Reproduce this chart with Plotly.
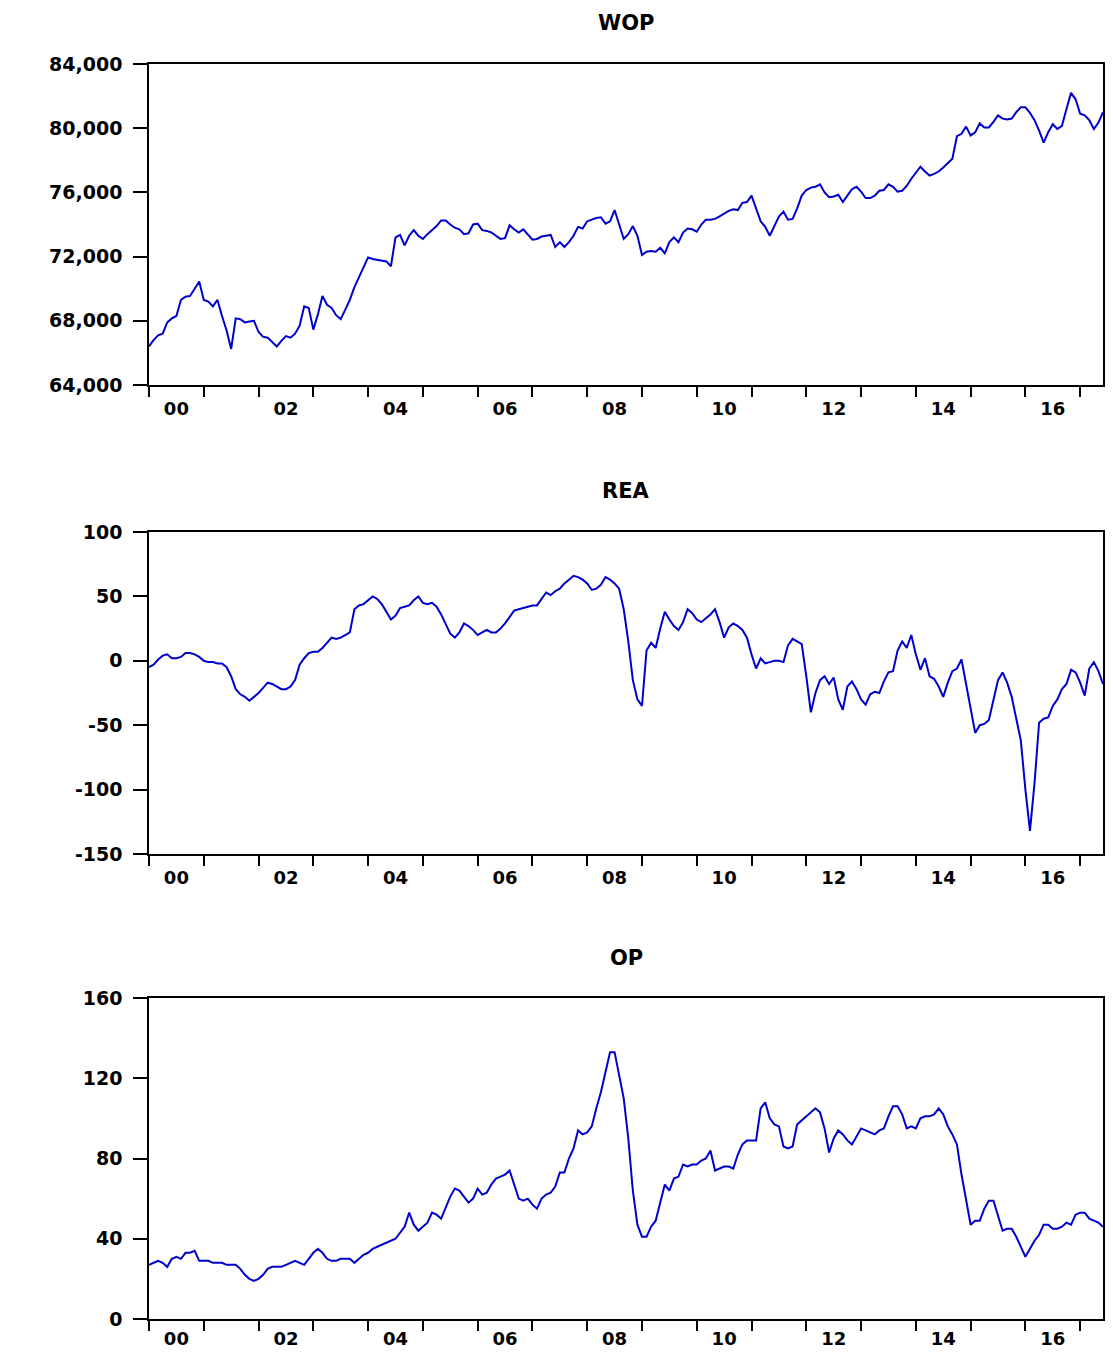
import plotly.graph_objects as go

# monthly observations, 2000M01 .. 2017M06
start_year = 2000
n_obs = 210

wop = [
    66400, 66800, 67100, 67200, 67900, 68150, 68300, 69300, 69500, 69550, 70000, 70450,
    69300, 69200, 68900, 69300, 68300, 67400, 66250, 68150, 68100, 67900, 67950, 68000,
    67300, 67000, 66950, 66650, 66400, 66750, 67050, 66950, 67200, 67700, 68900, 68800,
    67450, 68400, 69550, 69000, 68800, 68350, 68100, 68700, 69300, 70100, 70700, 71300,
    71950, 71850, 71800, 71750, 71700, 71400, 73200, 73350, 72700, 73300, 73650, 73300,
    73100, 73400, 73650, 73900, 74250, 74250, 74000, 73800, 73700, 73400, 73450, 74000,
    74050, 73650, 73600, 73500, 73300, 73100, 73150, 73950, 73700, 73500, 73700, 73350,
    73050, 73100, 73250, 73300, 73350, 72600, 72900, 72600, 72900, 73300, 73850, 73750,
    74200, 74300, 74400, 74450, 74050, 74200, 74900, 74000, 73100, 73400, 73900, 73300,
    72100, 72300, 72350, 72300, 72550, 72200, 72900, 73200, 72900, 73500, 73750, 73700,
    73550, 74000, 74300, 74300, 74350, 74500, 74700, 74850, 74950, 74900, 75350, 75400,
    75800, 75000, 74200, 73850, 73300, 73900, 74500, 74800, 74300, 74350, 75000, 75800,
    76150, 76300, 76350, 76500, 76000, 75700, 75750, 75850, 75400, 75800, 76200, 76350,
    76050, 75650, 75650, 75800, 76100, 76150, 76500, 76350, 76050, 76100, 76400, 76850,
    77200, 77600, 77300, 77050, 77150, 77300, 77550, 77800, 78100, 79500, 79650, 80100,
    79550, 79750, 80300, 80050, 80050, 80400, 80800, 80600, 80550, 80600, 81000, 81300,
    81300, 80950, 80500, 79850, 79100, 79750, 80250, 79950, 80150, 81200, 82200, 81800,
    80900, 80800, 80500, 79950, 80350, 81000,
]

rea = [
    -5, -3, 1, 4, 5, 2, 2, 3, 6, 6, 5, 3,
    0, -1, -1, -2, -2, -5, -12, -22, -26, -28, -31, -28,
    -25, -21, -17, -18, -20, -22, -22, -20, -15, -3, 2, 6,
    7, 7, 10, 14, 18, 17, 18, 20, 22, 40, 43, 44,
    47, 50, 48, 44, 38, 32, 35, 41, 42, 43, 47, 50,
    45, 44, 45, 42, 36, 28, 21, 18, 22, 29, 27, 24,
    20, 22, 24, 22, 22, 25, 29, 34, 39, 40, 41, 42,
    43, 43, 48, 53, 51, 54, 56, 60, 63, 66, 65, 63,
    60, 55, 56, 59, 65, 63, 60, 56, 40, 15, -15, -30,
    -35, 8, 14, 10, 25, 38, 32, 27, 24, 30, 40, 37,
    32, 30, 33, 36, 40, 30, 18, 26, 29, 27, 24, 18,
    5, -6, 2, -2, -1, 0, 0, -1, 12, 17, 15, 13,
    -12, -40, -25, -15, -12, -18, -13, -30, -38, -20, -16, -22,
    -30, -34, -26, -24, -25, -16, -9, -8, 8, 15, 10, 20,
    5, -7, 2, -12, -14, -20, -28, -17, -8, -6, 1, -18,
    -40, -56, -50, -49, -46, -30, -15, -9, -17, -28, -45, -62,
    -100, -132, -95, -48, -45, -44, -35, -30, -22, -18, -7, -9,
    -17, -27, -6, -1, -8, -18,
]

op = [
    27, 28, 29, 28, 26, 30, 31, 30, 33, 33, 34, 29,
    29, 29, 28, 28, 28, 27, 27, 27, 25, 22, 20, 19,
    20, 22, 25, 26, 26, 26, 27, 28, 29, 28, 27, 30,
    33, 35, 33, 30, 29, 29, 30, 30, 30, 28, 30, 32,
    33, 35, 36, 37, 38, 39, 40, 43, 46, 53, 47, 44,
    46, 48, 53, 52, 50, 56, 61, 65, 64, 61, 58, 60,
    65, 62, 63, 67, 70, 71, 72, 74, 67, 60, 59, 60,
    57, 55, 60, 62, 63, 66, 73, 73, 80, 85, 94, 92,
    93, 96, 105, 113, 123, 133, 133, 122, 110, 90, 64, 47,
    41, 41, 46, 49, 58, 67, 64, 70, 71, 77, 76, 77,
    77, 79, 80, 84, 74, 75, 76, 76, 75, 82, 87, 89,
    89, 89, 105, 108, 100, 97, 96, 86, 85, 86, 97, 99,
    101, 103, 105, 103, 95, 83, 90, 94, 92, 89, 87, 91,
    95, 94, 93, 92, 94, 95, 101, 106, 106, 102, 95, 96,
    95, 100, 101, 101, 102, 105, 102, 96, 92, 87, 72, 60,
    47, 49, 49, 55, 59, 59, 52, 44, 45, 45, 41, 36,
    31, 35, 39, 42, 47, 47, 45, 45, 46, 48, 47, 52,
    53, 53, 50, 49, 48, 46,
]

titles = ["WOP", "REA", "OP"]
y_ticks = [
    [64000, 68000, 72000, 76000, 80000, 84000],
    [-150, -100, -50, 0, 50, 100],
    [0, 40, 80, 120, 160],
]
y_ticktext = [
    ["64,000", "68,000", "72,000", "76,000", "80,000", "84,000"],
    ["-150", "-100", "-50", "0", "50", "100"],
    ["0", "40", "80", "120", "160"],
]
year_labels = ["00", "02", "04", "06", "08", "10", "12", "14", "16"]

x = [start_year + i / 12 for i in range(n_obs)]
x_range = [start_year, x[-1]]

# the page body adds an 8px margin, so the figure is sized/positioned to fit
W, H = 1097, 1341
plot_left, plot_right = 141, 1095
panels = [(56, 377), (524, 846), (990, 1311)]  # (top, bottom) in px
title_y = [15, 483, 950]
x_standoff = [7, 7, 3]

font_fam = "DejaVu Sans"
tick_font = dict(family=font_fam, size=19, color="black", weight="bold")
xtick_font = dict(family=font_fam, size=18, color="black", weight="bold")

fig = go.Figure()
series = [wop, rea, op]
for k, (vals, name) in enumerate(zip(series, titles)):
    sfx = "" if k == 0 else str(k + 1)
    fig.add_trace(go.Scatter(
        x=x, y=vals, mode="lines", name=name,
        line=dict(color="#0000cc", width=2),
        xaxis="x" + sfx, yaxis="y" + sfx, showlegend=False,
    ))
    top, bot = panels[k]
    fig.layout["xaxis" + sfx] = dict(
        domain=[plot_left / W, plot_right / W], anchor="y" + sfx, range=x_range,
        showline=True, linecolor="black", linewidth=1.5, mirror=True,
        showgrid=False, zeroline=False, automargin=False,
        tickvals=[y + 0.5 for y in range(2000, 2017, 2)], ticktext=year_labels,
        ticks="", tickfont=xtick_font, ticklabelstandoff=x_standoff[k],
        minor=dict(tickvals=list(range(2000, 2018)), ticks="outside",
                   ticklen=10, tickcolor="black", tickwidth=1.5, showgrid=False),
    )
    fig.layout["yaxis" + sfx] = dict(
        domain=[1 - bot / H, 1 - top / H], anchor="x" + sfx,
        range=[y_ticks[k][0], y_ticks[k][-1]],
        showline=True, linecolor="black", linewidth=1.5, mirror=True,
        showgrid=False, zeroline=False, automargin=False,
        tickvals=y_ticks[k], ticktext=y_ticktext[k],
        ticks="outside", ticklen=14, tickwidth=1.5, tickcolor="black",
        tickfont=tick_font, ticklabelstandoff=7,
    )
    fig.add_annotation(
        text=name, xref="paper", yref="paper",
        x=(plot_left + plot_right) / 2 / W, y=1 - title_y[k] / H,
        xanchor="center", yanchor="middle", showarrow=False,
        font=dict(family=font_fam, size=21, color="black", weight="bold"),
    )

fig.update_layout(
    width=W, height=H,
    margin=dict(l=0, r=0, t=0, b=0),
    paper_bgcolor="white", plot_bgcolor="white",
)

fig.write_html("out.html")
